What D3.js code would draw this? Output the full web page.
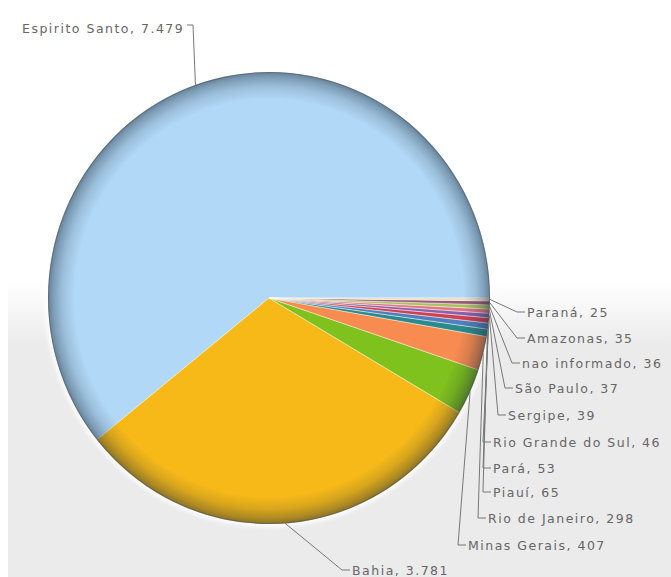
<!DOCTYPE html>
<html>
<head>
<meta charset="utf-8">
<script src="https://cdn.jsdelivr.net/npm/d3@7"></script>
<style>
  html, body { margin: 0; padding: 0; background: #fff; }
  svg { display: block; }
</style>
</head>
<body>
<svg id="chart" width="671" height="577"></svg>
<script>
// Registros por estado (ordem do maior para o menor)
const states = ["Espirito Santo", "Bahia", "Minas Gerais", "Rio de Janeiro", "Piauí", "Pará",
                "Rio Grande do Sul", "Sergipe", "São Paulo", "nao informado", "Amazonas", "Paraná"];
const values = [7479, 3781, 407, 298, 65, 53, 46, 39, 37, 36, 35, 25];
const colors = ["#b1d8f6", "#f6b918", "#7fc11d", "#f78b50", "#2b8a8c", "#4f7fc0",
                "#cf4152", "#8a61b0", "#e07484", "#a9c060", "#9a5b7c", "#eadcc6"];

// Posição dos rótulos: [x do texto, y do centro do texto]
const labelX = [22, 352, 468, 488, 493, 493, 493, 508, 515, 522, 527, 527];
const labelY = [28, 570, 545, 518, 492, 468, 442, 415, 388, 363, 338, 312];

const fmt = d3.formatLocale({ decimal: ",", thousands: ".", grouping: [3], currency: ["R$", ""] }).format(",d");

const W = 671, H = 577;
const cx = 269, cy = 298, r = 221, sy = 226 / 221;

const svg = d3.select("#chart");
const defs = svg.append("defs");

// Fundo: branco no alto, cinza claro na metade inferior
const bg = defs.append("linearGradient").attr("id", "bg")
  .attr("gradientUnits", "userSpaceOnUse").attr("x1", 0).attr("y1", 282).attr("x2", 0).attr("y2", 345);
bg.append("stop").attr("offset", 0).attr("stop-color", "#ffffff");
bg.append("stop").attr("offset", 1).attr("stop-color", "#ebebeb");
svg.append("rect").attr("width", W).attr("height", H).attr("fill", "#fff");
svg.append("rect").attr("x", 8).attr("y", 0).attr("width", W - 8).attr("height", H).attr("fill", "url(#bg)");

// Sombreado da borda da pizza
const rim = defs.append("radialGradient").attr("id", "rim")
  .attr("cx", 0).attr("cy", 0).attr("r", r).attr("fx", 0).attr("fy", 0)
  .attr("gradientUnits", "userSpaceOnUse");
[[0, 0], [0.88, 0], [0.935, 0.14], [0.975, 0.33], [1, 0.5]].forEach(([o, a]) =>
  rim.append("stop").attr("offset", o).attr("stop-color", "#1a2a3a").attr("stop-opacity", a));

const halo = defs.append("filter").attr("id", "halo").attr("x", "-10%").attr("y", "-10%").attr("width", "120%").attr("height", "120%");
halo.append("feGaussianBlur").attr("stdDeviation", 2);

const g = svg.append("g").attr("transform", `translate(${cx},${cy}) scale(1,${sy})`);

g.append("circle").attr("r", r + 3).attr("fill", "#ffffff").attr("opacity", 0.9).attr("filter", "url(#halo)");

// Fatias no sentido anti-horário a partir do leste
const pie = d3.pie().sort(null).value(d => d)
  .startAngle(Math.PI / 2).endAngle(Math.PI / 2 - 2 * Math.PI);
const arcs = pie(values);
const arc = d3.arc().innerRadius(0).outerRadius(r);

g.selectAll("path.slice").data(arcs).join("path")
  .attr("class", "slice")
  .attr("d", arc)
  .attr("fill", (d, i) => colors[i])
  .attr("stroke", "rgba(255,255,240,0.55)")
  .attr("stroke-width", 0.8);

g.append("circle").attr("r", r).attr("fill", "url(#rim)");
g.append("circle").attr("r", r - 0.5).attr("fill", "none").attr("stroke", "rgba(60,70,80,0.4)").attr("stroke-width", 1);

// Linhas de chamada e rótulos
const edge = d => {
  const a = (d.startAngle + d.endAngle) / 2;
  return [cx + r * Math.sin(a), cy - r * Math.cos(a) * sy];
};

const lines = svg.append("g");
arcs.forEach((d, i) => {
  const [ex, ey] = edge(d);
  const lx = labelX[i], ly = labelY[i];
  let pts;
  if (i === 0) {
    const tw = 165;
    pts = [[ex, ey], [lx + tw + 6, ly - 3], [lx + tw, ly - 3]];
  } else {
    pts = [[ex, ey], [lx - 10, ly], [lx - 2, ly]];
  }
  lines.append("path")
    .attr("d", d3.line()(pts))
    .attr("fill", "none")
    .attr("stroke", "#777")
    .attr("stroke-width", 1);
});

svg.append("g").selectAll("text").data(arcs).join("text")
  .attr("x", (d, i) => labelX[i])
  .attr("y", (d, i) => labelY[i] + 4.5)
  .attr("font-family", "DejaVu Sans, Verdana, sans-serif")
  .attr("font-size", 12.5)
  .attr("letter-spacing", 1.5)
  .attr("fill", "#666")
  .text((d, i) => `${states[i]}, ${fmt(values[i])}`);
</script>
</body>
</html>
